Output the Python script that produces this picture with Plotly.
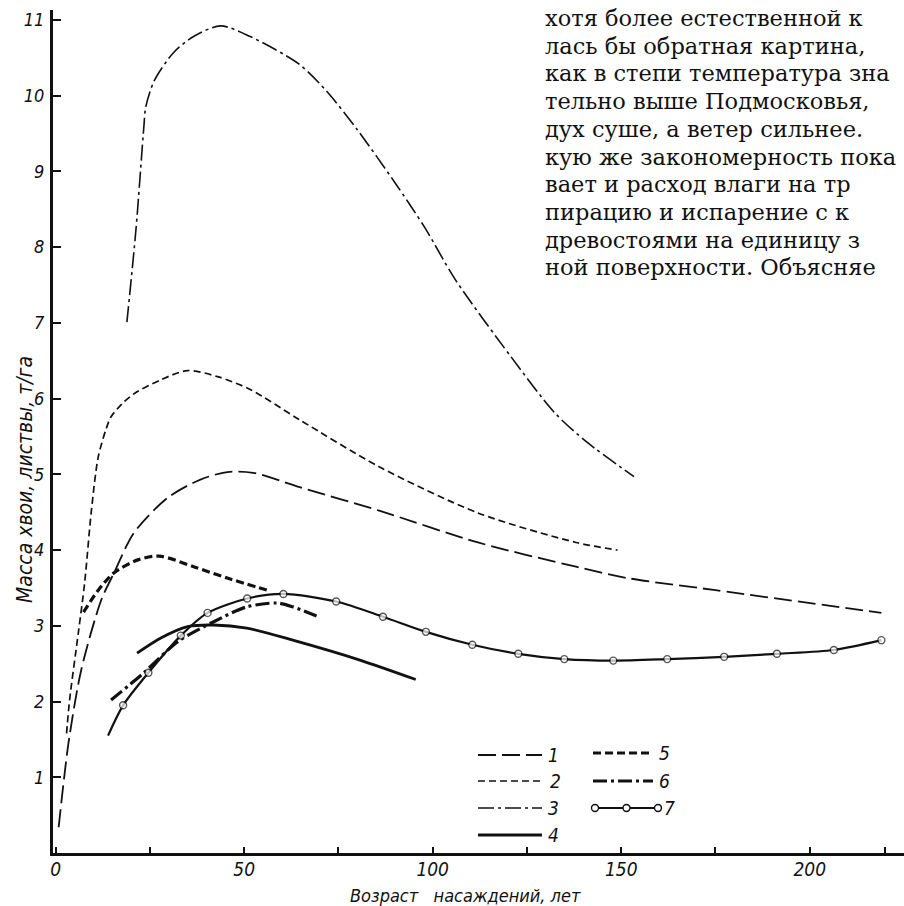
import plotly.graph_objects as go

# ---------------- data ----------------
age_1 = [0.8, 3.4, 6.8, 12.1, 15.5, 20.8, 29.7, 38.4, 45.5, 52.4, 64.7, 85.8, 112, 138, 151.6, 175, 219]
mass_1 = [0.34, 1.45, 2.42, 3.34, 3.70, 4.23, 4.69, 4.93, 5.03, 5.02, 4.83, 4.52, 4.10, 3.78, 3.63, 3.47, 3.17]

age_2 = [2.9, 3.7, 6.0, 7.7, 9.5, 11.3, 13.4, 14.7, 18.0, 21.0, 28.0, 35.0, 42.9, 51.6, 64.7, 85.8, 112, 138, 149]
mass_2 = [1.58, 2.02, 2.90, 3.57, 4.53, 5.23, 5.60, 5.76, 5.95, 6.07, 6.25, 6.37, 6.29, 6.12, 5.72, 5.10, 4.49, 4.10, 4.00]

age_3 = [18.9, 21.3, 23.4, 23.9, 26.1, 31.3, 36.6, 43.7, 51.6, 64.7, 72, 80, 90, 98, 106, 120.8, 132.4, 141, 153.4]
mass_3 = [7.01, 8.23, 9.59, 9.85, 10.19, 10.57, 10.78, 10.92, 10.78, 10.41, 10.05, 9.55, 8.85, 8.25, 7.57, 6.55, 5.81, 5.42, 4.97]

age_4 = [21.6, 27.9, 35.0, 41.8, 50.7, 62.9, 80.5, 95.5]
mass_4 = [2.64, 2.84, 2.99, 3.01, 2.97, 2.81, 2.55, 2.29]

age_5 = [7.4, 11.3, 15.5, 21.8, 27.5, 36.6, 45.5, 56.8]
mass_5 = [3.18, 3.47, 3.70, 3.87, 3.92, 3.78, 3.63, 3.46]

age_6 = [14.7, 23.4, 32.4, 41.8, 50.7, 58.7, 62.9, 69.2]
mass_6 = [2.02, 2.38, 2.79, 3.05, 3.25, 3.30, 3.25, 3.13]

age_7 = [13.9, 17.9, 24.6, 33.2, 40.3, 50.8, 60.4, 74.4, 86.8, 98.2, 110.5, 122.7, 134.9, 147.9, 162.2, 177.3, 191.3, 206.4, 219]
mass_7 = [1.55, 1.95, 2.38, 2.87, 3.17, 3.36, 3.42, 3.32, 3.12, 2.92, 2.75, 2.63, 2.56, 2.54, 2.56, 2.59, 2.63, 2.68, 2.81]

series_names = ["1", "2", "3", "4", "5", "6", "7"]

x_tickvals = [0, 25, 50, 75, 100, 125, 150, 175, 200, 220]
x_ticktext = ["0", "", "50", "", "100", "", "150", "", "200", ""]
y_tickvals = [1, 2, 3, 4, 5, 6, 7, 8, 9, 10, 11]
y_ticktext = ["1", "2", "3", "4", "5", "6", "7", "8", "9", "10", "11"]

x_title = "Возраст\u00a0\u00a0\u00a0насаждений, лет"
y_title = "Масса хвои, листвы, т/га"

page_text = [
    "хотя более естественной к",
    "лась бы обратная картина,",
    "как в степи температура зна",
    "тельно выше Подмосковья,",
    "дух суше, а ветер сильнее.",
    "кую же закономерность пока",
    "вает и расход влаги на тр",
    "пирацию и испарение с к",
    "древостоями на единицу з",
    "ной поверхности. Объясняе",
]

# ---------------- styles ----------------
INK = "#111111"
DRAW_FONT = "Liberation Sans Narrow, DejaVu Sans Condensed, Liberation Sans, sans-serif"
SERIF = "DejaVu Serif, Liberation Serif, serif"

styles = {
    "1": dict(width=1.8, dash="18px,6px"),
    "2": dict(width=1.7, dash="7px,4px"),
    "3": dict(width=1.6, dash="16px,4px,3px,4px"),
    "4": dict(width=2.8, dash="solid"),
    "5": dict(width=3.2, dash="8px,4px"),
    "6": dict(width=3.2, dash="14px,4px,3px,4px"),
    "7": dict(width=2.2, dash="solid"),
}

series = {
    "1": (age_1, mass_1), "2": (age_2, mass_2), "3": (age_3, mass_3),
    "4": (age_4, mass_4), "5": (age_5, mass_5), "6": (age_6, mass_6),
    "7": (age_7, mass_7),
}

# plot-area geometry (pixels)
L, T, W, H = 53, 10, 851, 843
def pxx(x):
    return (x - L) / W
def pxy(y):
    return (T + H - y) / H

fig = go.Figure()
for name in series_names:
    xs, ys = series[name]
    st = styles[name]
    if name == "7":
        sizes = [0] + [7] * (len(xs) - 1)
        fig.add_trace(go.Scatter(
            x=xs, y=ys, mode="lines+markers", name=name,
            line=dict(color=INK, width=st["width"], shape="spline", smoothing=0.8),
            marker=dict(size=sizes, color="white", line=dict(color=INK, width=1.4)),
            showlegend=False))
    else:
        fig.add_trace(go.Scatter(
            x=xs, y=ys, mode="lines", name=name,
            line=dict(color=INK, width=st["width"], dash=st["dash"],
                      shape="spline", smoothing=0.8),
            showlegend=False))

# ---------------- legend (drawn as a key block) ----------------
shapes = []
annotations = []
legend_layout = {
    "1": (478, 542, 755), "2": (478, 544, 781), "3": (478, 542, 808), "4": (478, 542, 835),
    "5": (593, 653, 753), "6": (593, 653, 781), "7": (595, 658, 808),
}
for name in series_names:
    x0, x1, yy = legend_layout[name]
    st = styles[name]
    shapes.append(dict(type="line", xref="paper", yref="paper",
                       x0=pxx(x0), x1=pxx(x1), y0=pxy(yy), y1=pxy(yy),
                       line=dict(color=INK, width=st["width"], dash=st["dash"]),
                       layer="above"))
    if name == "7":
        for cx in (x0, (x0 + x1) / 2, x1):
            shapes.append(dict(type="circle", xref="paper", yref="paper",
                               xsizemode="pixel", ysizemode="pixel",
                               xanchor=pxx(cx), yanchor=pxy(yy),
                               x0=-3.5, x1=3.5, y0=-3.5, y1=3.5,
                               fillcolor="white", line=dict(color=INK, width=1.4),
                               layer="above"))
    annotations.append(dict(text=name, xref="paper", yref="paper",
                            x=pxx(x1 + 4), y=pxy(yy), xanchor="left", yanchor="middle",
                            showarrow=False,
                            font=dict(family=DRAW_FONT, size=19, color=INK, style="italic")))

# axis titles
annotations.append(dict(text=x_title, xref="paper", yref="paper",
                        x=pxx(465), y=pxy(895), xanchor="center", yanchor="middle",
                        showarrow=False,
                        font=dict(family=DRAW_FONT, size=18, color=INK, style="italic")))
annotations.append(dict(text=y_title, xref="paper", yref="paper", textangle=-90,
                        x=pxx(25), y=pxy(480), xanchor="center", yanchor="middle",
                        showarrow=False,
                        font=dict(family=DRAW_FONT, size=21, color=INK, style="italic")))

# book text at top right
for i, line in enumerate(page_text):
    annotations.append(dict(text=line, xref="paper", yref="paper",
                            x=pxx(543), y=pxy(18 + 27.7 * i), xanchor="left", yanchor="middle",
                            showarrow=False,
                            font=dict(family=SERIF, size=22.5, color=INK)))

fig.update_layout(
    width=904, height=906,
    margin=dict(l=L, r=904 - L - W, t=T, b=906 - T - H, pad=0),
    paper_bgcolor="white", plot_bgcolor="white",
    shapes=shapes, annotations=annotations,
    showlegend=False,
)
fig.update_xaxes(
    range=[-0.7, 225], showgrid=False, zeroline=False,
    showline=True, linecolor=INK, linewidth=2.5,
    ticks="inside", ticklen=6, tickwidth=1.6, tickcolor=INK,
    tickvals=x_tickvals, ticktext=x_ticktext, ticklabelstandoff=-3,
    tickfont=dict(family=DRAW_FONT, size=19, color=INK, style="italic"),
)
fig.update_yaxes(
    range=[0, 11.13], showgrid=False, zeroline=False,
    showline=True, linecolor=INK, linewidth=3,
    ticks="inside", ticklen=8, tickwidth=1.6, tickcolor=INK,
    tickvals=y_tickvals, ticktext=y_ticktext, ticklabelstandoff=2,
    tickfont=dict(family=DRAW_FONT, size=18, color=INK, style="italic"),
)

fig.write_html("out.html")
